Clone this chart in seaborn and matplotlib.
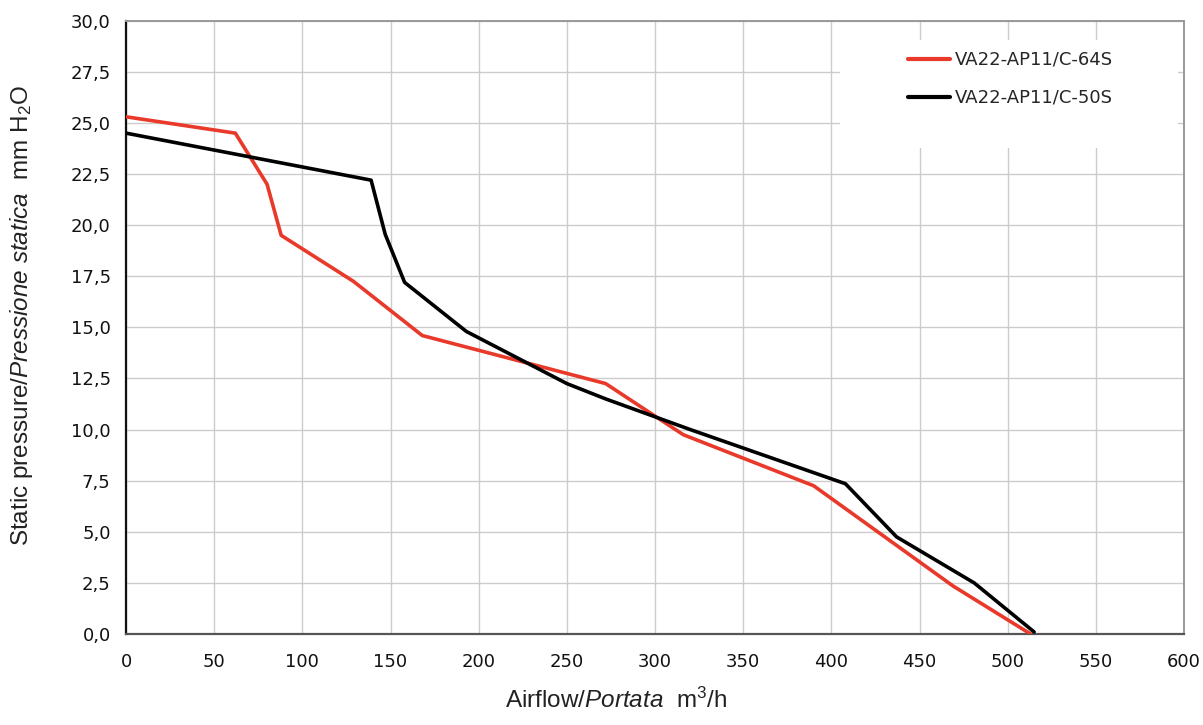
import numpy as np
import pandas as pd
import matplotlib
matplotlib.use("Agg")
import matplotlib.pyplot as plt
from matplotlib.patches import Rectangle
from matplotlib.ticker import FuncFormatter, MultipleLocator
import seaborn as sns

# ---- data ----
series_names = ["VA22-AP11/C-64S", "VA22-AP11/C-50S"]
airflow_64s = [0, 62, 80, 88, 129, 168, 272, 316, 390, 469, 513]
pressure_64s = [25.3, 24.5, 22.0, 19.5, 17.25, 14.6, 12.25, 9.75, 7.25, 2.35, 0.0]
airflow_50s = [0, 139, 147, 158, 193, 250, 272, 320, 408, 437, 481, 515]
pressure_50s = [24.5, 22.2, 19.55, 17.2, 14.8, 12.25, 11.5, 10.0, 7.35, 4.75, 2.5, 0.1]
line_colors = ["#e8392a", "#000000"]
x_ticks = list(range(0, 601, 50))

df = pd.concat([
    pd.DataFrame({"airflow": airflow_64s, "pressure": pressure_64s, "model": series_names[0]}),
    pd.DataFrame({"airflow": airflow_50s, "pressure": pressure_50s, "model": series_names[1]}),
])

sns.set_theme(style="white")
plt.rcParams["font.family"] = ["DejaVu Sans"]
plt.rcParams["mathtext.fontset"] = "custom"
plt.rcParams["mathtext.rm"] = "Liberation Sans"
plt.rcParams["mathtext.it"] = "Liberation Sans:italic"

fig = plt.figure(figsize=(12.03, 7.25), dpi=100)
ax = fig.add_axes([126 / 1203, 1 - 634 / 725, (1184 - 126) / 1203, (634 - 20.7) / 725])

sns.lineplot(data=df, x="airflow", y="pressure", hue="model", hue_order=series_names,
             palette=line_colors, sort=False, estimator=None, units="model",
             linewidth=2.6, ax=ax, legend=True, zorder=3)

ax.set_xlim(0, 600)
ax.set_ylim(0, 30)
ax.set_xticks(x_ticks)
ax.yaxis.set_major_locator(MultipleLocator(2.5))
ax.yaxis.set_major_formatter(FuncFormatter(lambda v, p: f"{v:.1f}".replace(".", ",")))
ax.xaxis.set_major_formatter(FuncFormatter(lambda v, p: f"{int(round(v))}"))

ax.grid(True, color="#cccccc", linewidth=1.0, zorder=0)
ax.set_axisbelow(True)

for side, col, lw in [("left", "#111111", 1.6), ("bottom", "#555555", 1.6),
                      ("top", "#999999", 1.4), ("right", "#999999", 1.4)]:
    ax.spines[side].set_color(col)
    ax.spines[side].set_linewidth(lw)
    ax.spines[side].set_visible(True)

ax.tick_params(axis="both", which="major", direction="out", length=6, width=1,
               color="#555555", labelsize=13, labelcolor="#111111")
ax.tick_params(axis="y", pad=5)
ax.tick_params(axis="x", pad=7.5)
for lab in ax.get_xticklabels() + ax.get_yticklabels():
    lab.set_fontfamily("DejaVu Sans")

ax.set_xlabel("")
ax.set_ylabel("")

fig.text(616 / 1203, 1 - 700 / 725, r"Airflow/$\mathit{Portata}$  m$^3$/h",
         family="Liberation Sans", fontsize=17.5, color="#222222",
         ha="center", va="center")
fig.text(22 / 1203, 1 - 315 / 725, r"Static pressure/$\mathit{Pressione\ statica}$  mm H$_2$O",
         family="Liberation Sans", fontsize=17.5, color="#222222",
         ha="center", va="center", rotation=90)

# legend background box covering the grid
ax.add_patch(Rectangle((0.675, 0.7924), 0.319, 0.176, transform=ax.transAxes,
                       facecolor="white", edgecolor="none", zorder=2))

handles, labels = ax.get_legend_handles_labels()
leg = ax.legend(handles, labels, loc="upper left",
                bbox_to_anchor=(908 / 1203, 1 - 51 / 725), bbox_transform=fig.transFigure,
                frameon=False, prop={"family": "DejaVu Sans", "size": 13},
                handlelength=2.35, handletextpad=0.25,
                labelspacing=1.1, borderpad=0, borderaxespad=0)
for h in leg.get_lines():
    h.set_linewidth(3)
leg.set_zorder(4)

fig.savefig("out.png", dpi=100)
